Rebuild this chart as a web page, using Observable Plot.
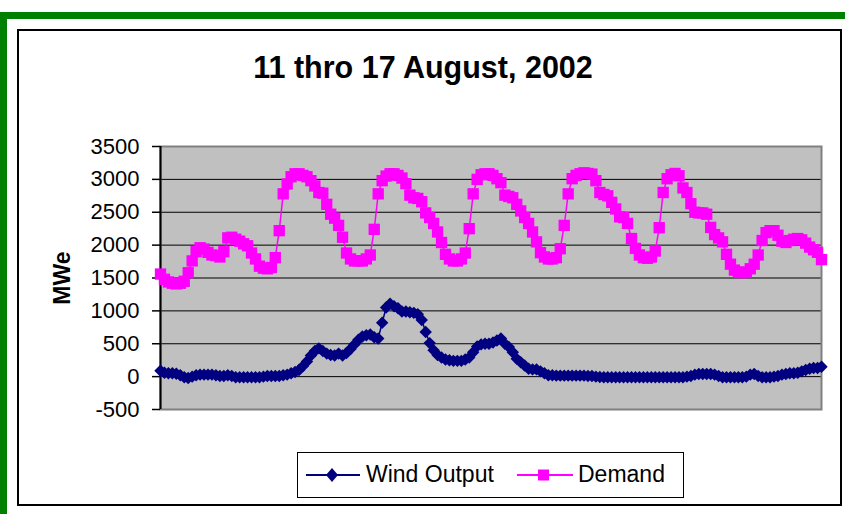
<!DOCTYPE html>
<html>
<head>
<meta charset="utf-8">
<script src="https://cdn.jsdelivr.net/npm/d3@7"></script>
<script src="https://cdn.jsdelivr.net/npm/@observablehq/plot@0.6"></script>
<style>
  html, body { margin: 0; padding: 0; background: #fff; }
  #wrap { position: relative; width: 845px; height: 514px; overflow: hidden; background: #fff;
          font-family: "Liberation Sans", Arial, sans-serif; color: #000; }
  .abs { position: absolute; }
</style>
</head>
<body>
<div id="wrap">
  <div class="abs" style="left:0;top:12px;width:845px;height:7px;background:#008000"></div>
  <div class="abs" style="left:0;top:12px;width:7px;height:502px;background:#008000"></div>
  <div class="abs" style="left:17px;top:29px;width:821px;height:473px;border:2px solid #000"></div>
  <div id="chart" class="abs" style="left:0;top:0"></div>
  <div id="title" class="abs" style="left:0;top:52px;width:846px;text-align:center;font-weight:bold;font-size:30.5px;line-height:30px;white-space:nowrap"></div>
  <div id="ylabel" class="abs" style="left:12px;top:266px;width:100px;text-align:center;font-weight:bold;font-size:23px;line-height:24px;transform:rotate(-90deg);transform-origin:50% 50%"></div>
  <div id="legend" class="abs" style="left:297px;top:452px;width:385px;height:44px;border:1px solid #000;background:#fff"></div>
</div>
<script>
// ---- data ----
const title = "11 thro 17 August, 2002";
const yLabel = "MWe";
const seriesNames = ["Wind Output", "Demand"];
const seriesColors = ["#000080", "#ff00ff"];
const yTicks = [-500, 0, 500, 1000, 1500, 2000, 2500, 3000, 3500];

// hourly values, 11-17 August 2002 (168 hours)
const demand = [
  1560,1480,1440,1420,1410,1420,1450,1580,1760,1900,1960,1940,1890,1850,1840,1820,1900,2110,2120,2090,2060,2020,1990,1880,
  1790,1680,1650,1640,1660,1810,2220,2780,2930,3040,3085,3085,3060,3040,2980,2900,2800,2790,2620,2470,2410,2300,2120,1880,
  1790,1760,1760,1760,1790,1850,2240,2780,2980,3050,3085,3085,3060,3020,2935,2760,2720,2710,2660,2490,2420,2330,2200,2040,
  1860,1790,1760,1760,1790,1880,2250,2780,3000,3070,3085,3085,3060,3010,2950,2760,2740,2720,2620,2520,2420,2330,2200,2050,
  1885,1820,1790,1790,1810,1945,2300,2780,3010,3060,3085,3100,3090,3080,2980,2800,2770,2750,2650,2550,2430,2420,2330,2100,
  1950,1850,1810,1800,1820,1910,2265,2800,3010,3070,3090,3055,2870,2800,2630,2500,2490,2490,2470,2270,2160,2110,2050,1860,
  1710,1620,1590,1580,1590,1640,1710,1850,2070,2190,2220,2220,2150,2060,2040,2070,2090,2100,2080,2030,1970,1930,1890,1780
];
const wind = [
  90,60,50,50,45,20,-10,-20,0,20,30,30,30,30,20,10,10,20,10,-10,-10,-10,-10,-10,
  -10,-10,0,10,10,10,10,20,30,50,70,100,160,230,320,390,430,390,350,330,320,350,320,360,
  420,490,560,610,630,640,600,580,820,1050,1110,1070,1040,990,990,980,970,950,860,680,510,400,330,290,
  260,250,240,240,240,260,290,370,460,490,500,500,520,550,580,500,450,370,270,220,170,120,110,110,
  80,50,20,20,15,15,15,15,15,15,15,15,10,10,0,-5,-10,-10,-10,-10,-10,-10,-10,-10,
  -10,-10,-10,-10,-10,-10,-10,-10,-10,-10,-10,-10,-10,0,10,30,40,40,40,40,30,10,-10,-10,
  -10,-10,-10,-10,0,30,40,10,-10,-10,-10,0,10,30,40,50,50,60,80,100,120,130,130,150
];
const hours = d3.range(demand.length);

const windData = hours.map(i => ({i, v: wind[i]}));
const demandData = hours.map(i => ({i, v: demand[i]}));

const chart = Plot.plot({
  width: 845,
  height: 514,
  marginLeft: 160,
  marginRight: 24,
  marginTop: 146,
  marginBottom: 105,
  x: {domain: [0, hours.length - 1], axis: null},
  y: {domain: [yTicks[0], yTicks[yTicks.length - 1]]},
  style: {background: "transparent", fontFamily: "'Liberation Sans', Arial, sans-serif", color: "#000"},
  marks: [
    Plot.frame({fill: "#c0c0c0"}),
    Plot.gridY(yTicks, {stroke: "#000", strokeOpacity: 1, strokeWidth: 1}),
    Plot.frame({stroke: "#808080", strokeWidth: 2}),
    Plot.ruleX([0], {stroke: "#000", strokeWidth: 2}),
    Plot.axisY(yTicks, {tickSize: 8, tickPadding: 13, fontSize: 22, label: null, tickFormat: d => String(d), stroke: "#000", strokeWidth: 1.5}),
    Plot.line(windData, {x: "i", y: "v", stroke: seriesColors[0], strokeWidth: 1.5}),
    Plot.dot(windData, {x: "i", y: "v", symbol: "diamond2", r: 5.6, fill: seriesColors[0]}),
    Plot.line(demandData, {x: "i", y: "v", stroke: seriesColors[1], strokeWidth: 1.5}),
    Plot.dot(demandData, {x: "i", y: "v", symbol: "square", r: 6.4, fill: seriesColors[1]})
  ]
});
document.getElementById("chart").appendChild(chart);
document.getElementById("title").textContent = title;
document.getElementById("ylabel").textContent = yLabel;

// legend
const lg = document.getElementById("legend");
lg.innerHTML = `
  <svg width="385" height="44" style="position:absolute;left:0;top:0">
    <line x1="8" x2="62" y1="22" y2="22" stroke="${seriesColors[0]}" stroke-width="2"/>
    <path d="M34,15 L40,22 L34,29 L28,22 Z" fill="${seriesColors[0]}"/>
    <line x1="219" x2="275" y1="22" y2="22" stroke="${seriesColors[1]}" stroke-width="2"/>
    <rect x="240" y="16.5" width="11" height="11" fill="${seriesColors[1]}"/>
  </svg>
  <div style="position:absolute;left:68px;top:8px;font-size:23px;line-height:26px;white-space:nowrap">${seriesNames[0]}</div>
  <div style="position:absolute;left:280px;top:8px;font-size:23px;line-height:26px;white-space:nowrap">${seriesNames[1]}</div>
`;
</script>
</body>
</html>
